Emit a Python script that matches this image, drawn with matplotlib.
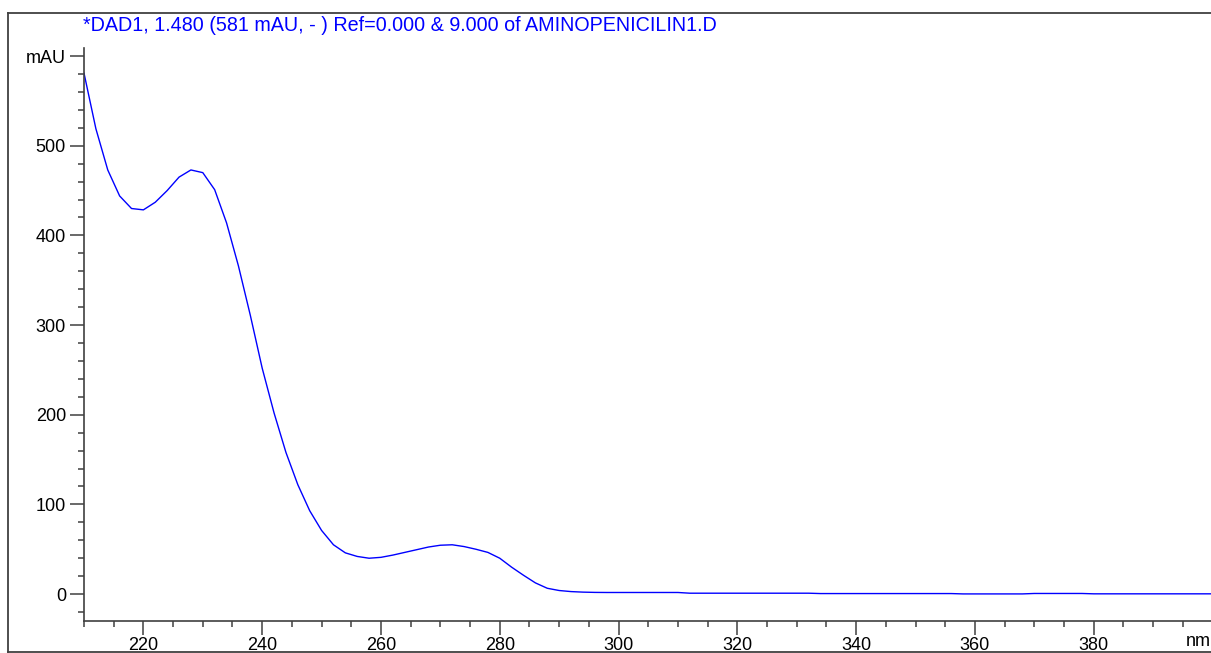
import numpy as np
import matplotlib.pyplot as plt
from matplotlib.ticker import MultipleLocator, FixedLocator, FixedFormatter
from matplotlib.lines import Line2D

plt.rcParams['font.family'] = ['Liberation Sans', 'DejaVu Sans']

# UV spectrum, 2 nm steps
wavelength = np.arange(210, 402, 2)
absorbance = [
    581, 519, 473, 444, 430, 428.5, 437, 450, 465, 473,      # 210-228
    470, 451, 414, 366, 311, 252, 202, 158, 122, 93,         # 230-248
    71, 55, 46, 42, 40, 41, 43.5, 46.5, 49.5, 52.5,          # 250-268
    54.5, 55, 53, 50, 46.5, 40, 30, 21, 12.5, 6.5,           # 270-288
    4, 2.8, 2.2, 1.9, 1.8, 1.8, 1.8, 1.8, 1.8, 1.8,          # 290-308
    1.8, 1.0, 1.0, 1.0, 1.0, 1.0, 1.0, 1.0, 1.0, 1.0,        # 310-328
    1.0, 1.0, 0.6, 0.6, 0.6, 0.6, 0.6, 0.6, 0.6, 0.6,        # 330-348
    0.6, 0.6, 0.6, 0.6, 0.2, 0.2, 0.2, 0.2, 0.2, 0.2,        # 350-368
    0.7, 0.7, 0.7, 0.7, 0.7, 0.3, 0.3, 0.3, 0.3, 0.3,        # 370-388
    0.3, 0.3, 0.3, 0.3, 0.3, 0.3,                            # 390-400
]
title = "*DAD1, 1.480 (581 mAU, - ) Ref=0.000 & 9.000 of AMINOPENICILIN1.D"
x_major = [220, 240, 260, 280, 300, 320, 340, 360, 380]
y_major = [0, 100, 200, 300, 400, 500, 600]
y_labels = ["0", "100", "200", "300", "400", "500", "mAU"]

W, H = 1211, 653
fig = plt.figure(figsize=(W / 100, H / 100), dpi=100)
ax = fig.add_axes([84 / W, (H - 621) / H, (1212.5 - 84) / W, (621 - 48) / H])

ax.plot(wavelength, absorbance, color="#0000ff", lw=1.0)
ax.set_xlim(210, 400)
ax.set_ylim(-30, 609)

axis_col = "#404040"
for s in ("top", "right"):
    ax.spines[s].set_visible(False)
for s in ("left", "bottom"):
    ax.spines[s].set_color(axis_col)
    ax.spines[s].set_linewidth(1.2)

ax.xaxis.set_major_locator(FixedLocator(x_major))
ax.xaxis.set_minor_locator(MultipleLocator(5))
ax.yaxis.set_major_locator(FixedLocator(y_major))
ax.yaxis.set_major_formatter(FixedFormatter(y_labels))
ax.yaxis.set_minor_locator(MultipleLocator(20))
ax.tick_params(which="major", length=10, width=1.1, color=axis_col,
               labelsize=13, pad=3)
ax.tick_params(which="minor", length=4.5, width=1.1, color=axis_col)
ax.tick_params(axis="x", which="major", pad=1.5)

fig.text(1198 / W, 1 - 641 / H, "nm", fontsize=13, ha="center", va="center")
fig.text(83 / W, 1 - 31 / H, title, fontsize=14.2, color="#0000ff",
         ha="left", va="baseline")

# outer frame (right side runs off the page)
fc = "#404040"
fig.add_artist(Line2D([7.5 / W, 7.5 / W], [1 - 12.5 / H, 1 - 651.5 / H],
                      transform=fig.transFigure, color=fc, lw=1.3))
fig.add_artist(Line2D([7.5 / W, 1.0], [1 - 12.5 / H, 1 - 12.5 / H],
                      transform=fig.transFigure, color=fc, lw=1.3))
fig.add_artist(Line2D([7.5 / W, 1.0], [1 - 651.5 / H, 1 - 651.5 / H],
                      transform=fig.transFigure, color=fc, lw=1.3))

fig.savefig("out.png", dpi=100)
